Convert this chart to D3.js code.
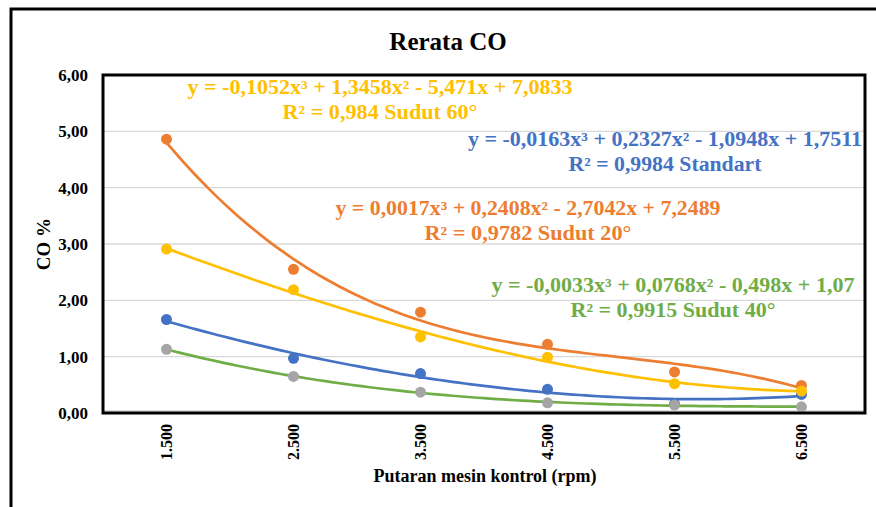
<!DOCTYPE html>
<html>
<head>
<meta charset="utf-8">
<script src="https://cdn.jsdelivr.net/npm/d3@7/dist/d3.min.js"></script>
<style>
  body { margin: 0; background: #fff; }
  svg text { font-family: "Liberation Serif", "Times New Roman", serif; font-weight: bold; }
</style>
</head>
<body>
<svg id="chart" width="876" height="507"></svg>
<script>
// ---------- data ----------
const categories = ["1.500", "2.500", "3.500", "4.500", "5.500", "6.500"];
const yTicks = [0, 1, 2, 3, 4, 5, 6];
const standart = [1.66, 0.97, 0.70, 0.42, 0.16, 0.33];
const sudut20 = [4.86, 2.55, 1.79, 1.22, 0.73, 0.49];
const sudut40 = [1.13, 0.65, 0.37, 0.18, 0.14, 0.11];
const sudut60 = [2.91, 2.19, 1.35, 0.99, 0.52, 0.39];

const seriesNames = ["Standart", "Sudut 20°", "Sudut 40°", "Sudut 60°"];
const seriesValues = [standart, sudut20, sudut40, sudut60];
const markerColors = ["#4472C4", "#ED7D31", "#A5A5A5", "#FFC000"];
const trendColors = ["#4472C4", "#ED7D31", "#70AD47", "#FFC000"];
const eqLine1 = [
  "y = -0,0163x³ + 0,2327x² - 1,0948x + 1,7511",
  "y = 0,0017x³ + 0,2408x² - 2,7042x + 7,2489",
  "y = -0,0033x³ + 0,0768x² - 0,498x + 1,07",
  "y = -0,1052x³ + 1,3458x² - 5,471x + 7,0833"
];
const eqLine2 = [
  "R² = 0,9984 Standart",
  "R² = 0,9782 Sudut 20°",
  "R² = 0,9915 Sudut 40°",
  "R² = 0,984 Sudut 60°"
];
// label anchor (center x, baseline y of first line) and widths of the two lines
const eqPos = [[665, 146], [528, 215], [673, 292], [380, 94]];
const eqWidth1 = [394, 385, 363, 385];
const eqWidth2 = [193, 207, 205, 195];

// ---------- layout ----------
const svg = d3.select("#chart");
const plot = { left: 103, top: 75, right: 865, bottom: 413 };

// outer frame
svg.append("rect").attr("x", 11).attr("y", 9).attr("width", 900).attr("height", 600)
  .attr("fill", "none").attr("stroke", "#000").attr("stroke-width", 3);

const x = d3.scaleBand().domain(categories).range([plot.left, plot.right]);
const y = d3.scaleLinear().domain([0, 6]).range([plot.bottom, plot.top]);

// gridlines
svg.append("g").selectAll("line").data(yTicks.filter(d => d > 0 && d < 6)).join("line")
  .attr("x1", plot.left).attr("x2", plot.right)
  .attr("y1", d => y(d)).attr("y2", d => y(d))
  .attr("stroke", "#D9D9D9").attr("stroke-width", 1.3);

// y axis labels
const yAxis = d3.axisLeft(y).tickValues(yTicks)
  .tickFormat(d => d3.format(".2f")(d).replace(".", ","))
  .tickSize(0).tickPadding(15);
const gy = svg.append("g").attr("transform", `translate(${plot.left},0)`).call(yAxis);
gy.select(".domain").remove();
gy.selectAll("text").attr("font-size", 17).attr("fill", "#000")
  .attr("font-family", "Liberation Serif").attr("font-weight", "bold");

// x axis labels
const xAxis = d3.axisBottom(x).tickSize(0).tickPadding(0);
const gx = svg.append("g").attr("transform", `translate(0,${plot.bottom})`).call(xAxis);
gx.select(".domain").remove();
gx.selectAll("text").attr("font-size", 16).attr("fill", "#000")
  .attr("font-family", "Liberation Serif").attr("font-weight", "bold")
  .attr("transform", "rotate(-90)")
  .attr("text-anchor", "end").attr("dy", "0.35em").attr("x", -11).attr("y", 0);

// cubic least-squares fit on x = 1..n
function cubicFit(vals) {
  const n = 4;
  const A = Array.from({ length: n }, () => new Array(n + 1).fill(0));
  vals.forEach((v, i) => {
    const xi = i + 1;
    for (let r = 0; r < n; r++) {
      for (let c = 0; c < n; c++) A[r][c] += Math.pow(xi, r + c);
      A[r][n] += v * Math.pow(xi, r);
    }
  });
  for (let i = 0; i < n; i++) {
    let p = i;
    for (let k = i + 1; k < n; k++) if (Math.abs(A[k][i]) > Math.abs(A[p][i])) p = k;
    [A[i], A[p]] = [A[p], A[i]];
    for (let k = i + 1; k < n; k++) {
      const f = A[k][i] / A[i][i];
      for (let c = i; c <= n; c++) A[k][c] -= f * A[i][c];
    }
  }
  const coef = new Array(n).fill(0);
  for (let i = n - 1; i >= 0; i--) {
    let s = A[i][n];
    for (let c = i + 1; c < n; c++) s -= A[i][c] * coef[c];
    coef[i] = s / A[i][i];
  }
  return t => coef[0] + coef[1] * t + coef[2] * t * t + coef[3] * t * t * t;
}

const step = x.step();
const xPos = t => x(categories[0]) + x.bandwidth() / 2 + (t - 1) * step;
const line = d3.line().x(d => xPos(d[0])).y(d => y(d[1])).curve(d3.curveLinear);

// trendlines
seriesValues.forEach((vals, si) => {
  const f = cubicFit(vals);
  const pts = d3.range(1, 6.0001, 0.05).map(t => [t, f(t)]);
  svg.append("path").datum(pts).attr("d", line)
    .attr("fill", "none").attr("stroke", trendColors[si]).attr("stroke-width", 2.7)
    .attr("stroke-linecap", "round");
});

// markers
seriesValues.forEach((vals, si) => {
  svg.append("g").selectAll("circle").data(vals).join("circle")
    .attr("cx", (d, i) => x(categories[i]) + x.bandwidth() / 2)
    .attr("cy", d => y(d))
    .attr("r", 5.5)
    .attr("fill", markerColors[si]);
});

// plot border
svg.append("line").attr("x1", plot.left).attr("x2", plot.right)
  .attr("y1", plot.bottom - 2).attr("y2", plot.bottom - 2)
  .attr("stroke", "#BFBFBF").attr("stroke-width", 1);
svg.append("rect").attr("x", plot.left).attr("y", plot.top)
  .attr("width", plot.right - plot.left).attr("height", plot.bottom - plot.top)
  .attr("fill", "none").attr("stroke", "#000").attr("stroke-width", 3);

// equations
seriesNames.forEach((name, si) => {
  const g = svg.append("g").attr("fill", trendColors[si]);
  g.append("text").attr("x", eqPos[si][0]).attr("y", eqPos[si][1])
    .attr("text-anchor", "middle").attr("font-size", 20)
    .attr("textLength", eqWidth1[si]).attr("lengthAdjust", "spacingAndGlyphs")
    .text(eqLine1[si]);
  g.append("text").attr("x", eqPos[si][0]).attr("y", eqPos[si][1] + 25)
    .attr("text-anchor", "middle").attr("font-size", 20)
    .attr("textLength", eqWidth2[si]).attr("lengthAdjust", "spacingAndGlyphs")
    .text(eqLine2[si]);
});

// title
svg.append("text").attr("x", 448).attr("y", 50).attr("text-anchor", "middle")
  .attr("font-size", 25).attr("fill", "#000").text("Rerata CO");

// axis titles
svg.append("text").attr("transform", `translate(50,244) rotate(-90)`)
  .attr("text-anchor", "middle").attr("font-size", 19).attr("fill", "#000").text("CO %");
svg.append("text").attr("x", 485).attr("y", 482).attr("text-anchor", "middle")
  .attr("font-size", 18).attr("fill", "#000").text("Putaran mesin kontrol (rpm)");
</script>
</body>
</html>
